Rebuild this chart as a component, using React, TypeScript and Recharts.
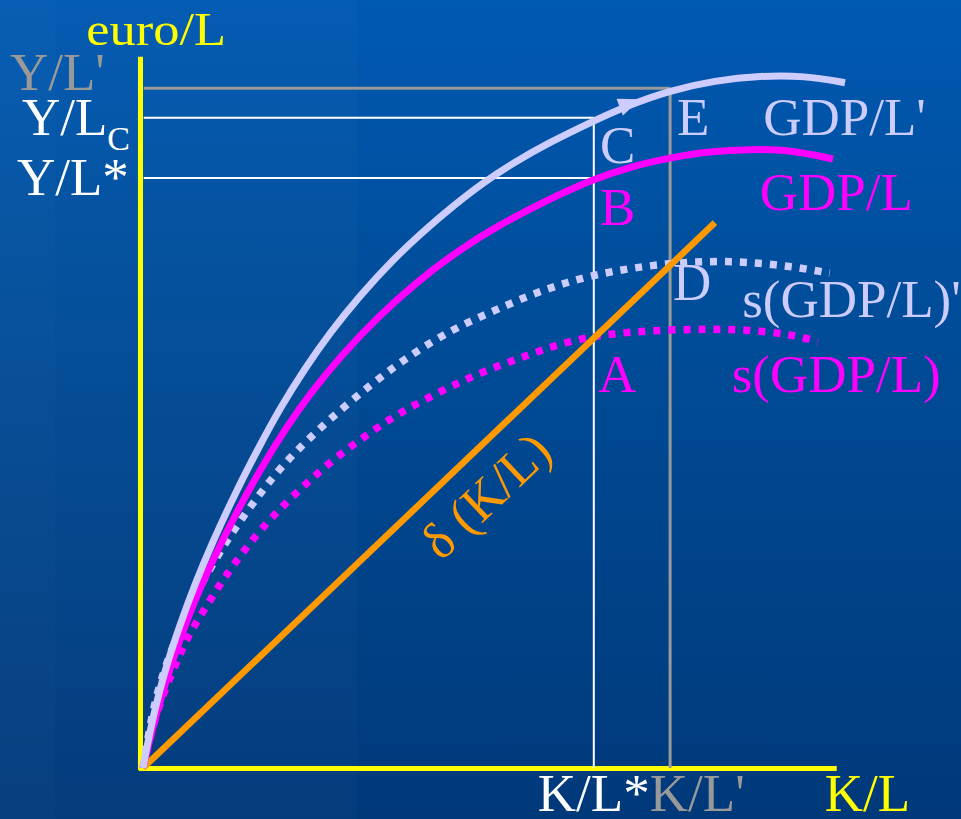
import { LineChart, Line, XAxis, YAxis, ReferenceLine, ReferenceDot } from 'recharts';

// schematic units: K/L and euro/L both run 0..100 on the drawn axes
const GDP_PRIME: [number, number][] = [
  [0, 0], [1.0, 5.4], [2.86, 13.2], [5.29, 20.5], [7.43, 26.3], [9.86, 32.1], [13.14, 39.2],
  [16.43, 45.6], [19.57, 51.4], [23.14, 57.1], [26.71, 62.2], [31.0, 67.5], [35.57, 72.5],
  [40.29, 76.9], [44.57, 80.5], [48.57, 83.6], [53.14, 86.6], [58.14, 89.4], [63.86, 92.2],
  [69.14, 94.6], [75.29, 96.8], [81.71, 98.2], [88.14, 98.9], [94.57, 98.9], [100.29, 97.9],
];
const GDP: [number, number][] = [
  [0, 0], [1.29, 5.5], [3.14, 12.0], [5.29, 18.5], [7.43, 24.0], [9.86, 29.5], [13.14, 36.1],
  [16.71, 42.6], [20.57, 48.8], [23.86, 53.5], [28.57, 59.2], [33.43, 64.3], [39.14, 69.5],
  [45.29, 74.1], [50.57, 77.4], [57.43, 81.0], [64.29, 84.1], [69.57, 85.9], [75.29, 87.2],
  [81.0, 88.1], [86.71, 88.4], [92.43, 88.3], [98.57, 87.0],
];
const SAVING_PRIME: [number, number][] = [
  [0, 0], [1.0, 6.1], [2.0, 10.7], [3.4, 15.1], [4.9, 19.0], [6.4, 22.6], [8.1, 25.9],
  [10.3, 29.7], [12.7, 33.6], [15.3, 37.3], [18.1, 41.0], [21.0, 44.4], [26.0, 49.3],
  [32.9, 55.1], [38.6, 59.3], [44.3, 62.7], [49.6, 65.1], [54.9, 67.4], [59.6, 69.1],
  [64.3, 70.4], [69.6, 71.4], [75.3, 72.1], [81.0, 72.4], [86.3, 72.3], [92.4, 71.7],
  [98.1, 70.7],
];
const SAVING: [number, number][] = [
  [0, 0], [1.0, 4.4], [2.4, 9.3], [3.9, 13.0], [5.3, 16.3], [6.7, 19.3], [8.6, 22.4],
  [10.3, 25.1], [11.7, 27.3], [14.3, 30.9], [17.1, 34.4], [20.4, 37.9], [23.6, 40.9],
  [27.1, 44.0], [31.0, 46.9], [34.9, 49.6], [38.4, 51.7], [45.7, 55.4], [50.6, 57.4],
  [55.3, 59.1], [59.6, 60.6], [64.3, 61.7], [69.6, 62.3], [75.3, 62.6], [81.0, 62.7],
  [86.3, 62.6], [92.4, 62.0], [96.4, 60.9],
];
const DEPRECIATION: [number, number][] = [[0, 0], [81.7, 77.9]];

const KL_STAR = 64.4;
const KL_PRIME = 75.3;
const Y_C = 92.9;
const Y_STAR = 84.3;
const Y_PRIME = 97.1;
const AXIS_X_END = 99.1;
const AXIS_Y_END = 101.6;

const W = 961;
const H = 819;
const UNIT = 7; // px per unit
const X_DOMAIN = [-143 / UNIT, (W - 143) / UNIT];
const Y_DOMAIN = [-(H - 768) / UNIT, 768 / UNIT];

const LAV = '#ccccff';
const MAG = '#ff00ff';
const ORANGE = '#ff9900';
const YELLOW = '#ffff00';
const GRAY = '#999999';
const FONT = '"Liberation Serif", "Times New Roman", serif';

const pts = (a: [number, number][]) => a.map(([kl, v]) => ({ kl, v }));

type Lbl = {
  text: string;
  x: number;
  y: number;
  color: string;
  size?: number;
  sx?: number;
  rotate?: number;
  anchor?: 'start' | 'middle' | 'end';
  sub?: string;
};

const LABELS: Lbl[] = [
  { text: 'euro/L', x: -8.1, y: 103.3, color: YELLOW, size: 46, sx: 1.14 },
  { text: "Y/L'", x: -19.0, y: 96.9, color: GRAY },
  { text: 'Y/L', x: -17.3, y: 90.4, color: '#ffffff', sub: 'C' },
  { text: 'Y/L*', x: -18.0, y: 81.9, color: '#ffffff' },
  { text: 'K/L*', x: 56.4, y: -6.2, color: '#ffffff' },
  { text: "K/L'", x: 72.4, y: -6.2, color: GRAY },
  { text: 'K/L', x: 97.4, y: -6.2, color: YELLOW },
  { text: 'E', x: 76.3, y: 90.4, color: LAV },
  { text: "GDP/L'", x: 88.6, y: 90.4, color: LAV },
  { text: 'C', x: 65.3, y: 86.4, color: LAV },
  { text: 'B', x: 65.3, y: 77.6, color: MAG },
  { text: 'GDP/L', x: 88.1, y: 79.7, color: MAG },
  { text: 'D', x: 75.7, y: 66.9, color: LAV },
  { text: "s(GDP/L)'", x: 85.6, y: 64.4, color: LAV },
  { text: 'A', x: 65.0, y: 53.7, color: MAG },
  { text: 's(GDP/L)', x: 84.1, y: 53.7, color: MAG },
  { text: 'δ (K/L)', x: 50.7, y: 37.1, color: ORANGE, size: 52, rotate: -43.6, anchor: 'middle' },
];

const renderLabel = (l: Lbl) => (props: any) => {
  const vb = props.viewBox || {};
  const x = (vb.x ?? 0) + (vb.width ?? 0) / 2;
  const y = (vb.y ?? 0) + (vb.height ?? 0) / 2;
  return (
    <text
      transform={`translate(${x},${y}) rotate(${l.rotate ?? 0}) scale(${l.sx ?? 1},1)`}
      fill={l.color}
      fontFamily={FONT}
      fontSize={l.size ?? 53}
      textAnchor={l.anchor ?? 'start'}
    >
      {l.text}
      {l.sub && (
        <tspan fontSize={34} dy={15}>
          {l.sub}
        </tspan>
      )}
    </text>
  );
};

const arrowHead = (p: any) => {
  const a = (-21 * Math.PI) / 180;
  const dx = Math.cos(a);
  const dy = Math.sin(a);
  const len = 22;
  const half = 9;
  const tip = `${p.cx + dx * len},${p.cy + dy * len}`;
  const b1 = `${p.cx - dy * half},${p.cy + dx * half}`;
  const b2 = `${p.cx + dy * half},${p.cy - dx * half}`;
  return <polygon points={`${tip} ${b1} ${b2}`} fill={LAV} />;
};

export default function App() {
  return (
    <div
      style={{
        position: 'absolute',
        left: 0,
        top: 0,
        width: W,
        height: H,
        background: 'linear-gradient(to bottom, #0059b2 0%, #004c98 40%, #00397a 100%)',
        overflow: 'hidden',
      }}
    >
      <div style={{ position: 'absolute', left: 0, top: 0, width: 357, height: H, background: 'rgba(255,255,255,0.02)' }} />
      <div style={{ position: 'absolute', left: 0, top: 0, width: 55, height: H, background: 'rgba(255,255,255,0.015)' }} />
      <div style={{ position: 'absolute', left: 0, top: 0 }}>
        <LineChart width={W} height={H} margin={{ top: 0, right: 0, bottom: 0, left: 0 }}>
          <XAxis type="number" dataKey="kl" domain={X_DOMAIN} hide />
          <YAxis type="number" domain={Y_DOMAIN} hide />

          {/* axes */}
          <ReferenceLine segment={[{ x: -0.36, y: -0.3 }, { x: -0.36, y: AXIS_Y_END }]} stroke={YELLOW} strokeWidth={5} />
          <ReferenceLine segment={[{ x: -0.6, y: -0.07 }, { x: AXIS_X_END, y: -0.07 }]} stroke={YELLOW} strokeWidth={5} />

          {/* guide lines */}
          <ReferenceLine segment={[{ x: 0.1, y: Y_PRIME }, { x: KL_PRIME, y: Y_PRIME }]} stroke={GRAY} strokeWidth={3} />
          <ReferenceLine segment={[{ x: KL_PRIME, y: Y_PRIME }, { x: KL_PRIME, y: 0 }]} stroke={GRAY} strokeWidth={3} />
          <ReferenceLine segment={[{ x: 0.1, y: Y_C }, { x: KL_STAR, y: Y_C }]} stroke="#ffffff" strokeWidth={2} />
          <ReferenceLine segment={[{ x: 0.1, y: Y_STAR }, { x: KL_STAR, y: Y_STAR }]} stroke="#ffffff" strokeWidth={2} />
          <ReferenceLine segment={[{ x: KL_STAR, y: Y_C }, { x: KL_STAR, y: 0 }]} stroke="#ffffff" strokeWidth={2} />

          <Line data={pts(SAVING)} dataKey="v" type="basis" stroke={MAG} strokeWidth={7.5} strokeDasharray="7 8" dot={false} activeDot={false} isAnimationActive={false} />
          <Line data={pts(SAVING_PRIME)} dataKey="v" type="basis" stroke={LAV} strokeWidth={7.5} strokeDasharray="7 8" dot={false} activeDot={false} isAnimationActive={false} />
          <Line data={pts(DEPRECIATION)} dataKey="v" type="linear" stroke={ORANGE} strokeWidth={6.5} dot={false} activeDot={false} isAnimationActive={false} />
          <Line data={pts(GDP)} dataKey="v" type="basis" stroke={MAG} strokeWidth={7} dot={false} activeDot={false} isAnimationActive={false} />
          <Line data={pts(GDP_PRIME)} dataKey="v" type="basis" stroke={LAV} strokeWidth={7} dot={false} activeDot={false} isAnimationActive={false} />

          <ReferenceDot x={68.1} y={94.4} r={0} shape={arrowHead} />

          {LABELS.map((l) => (
            <ReferenceDot key={l.text} x={l.x} y={l.y} r={0} fill="none" stroke="none" label={renderLabel(l)} />
          ))}
        </LineChart>
      </div>
    </div>
  );
}
